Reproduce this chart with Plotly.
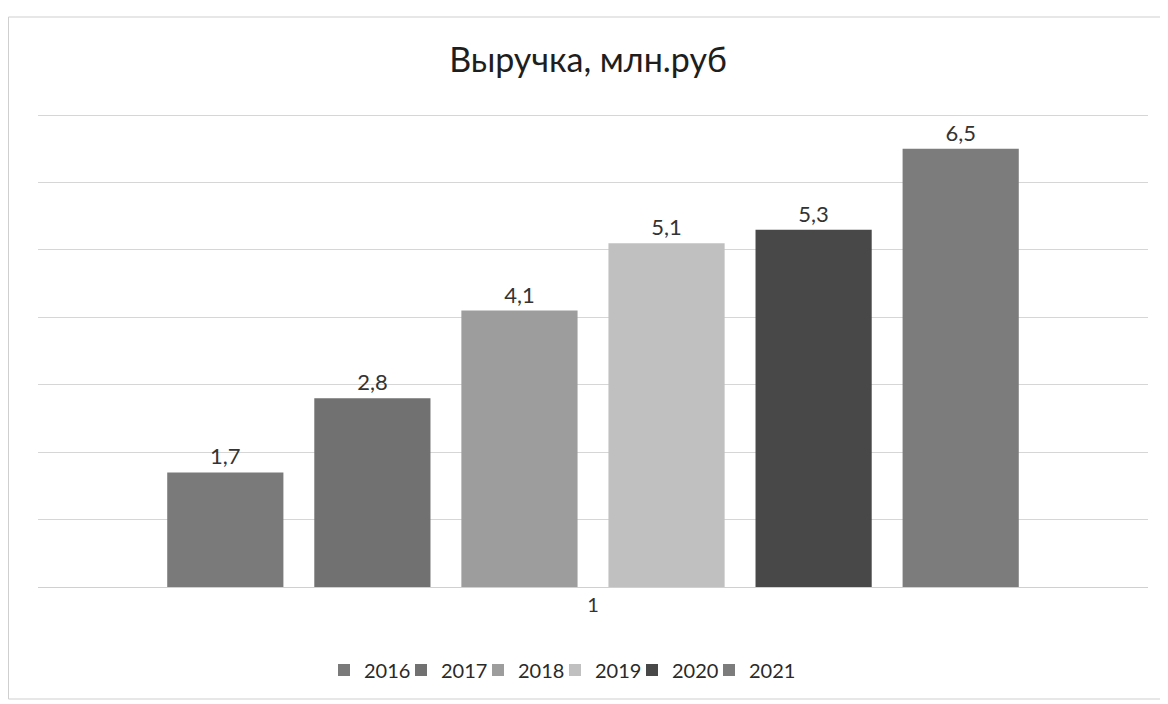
import plotly.graph_objects as go

title = "Выручка, млн.руб"
category = ["1"]
years = ["2016", "2017", "2018", "2019", "2020", "2021"]
values = [1.7, 2.8, 4.1, 5.1, 5.3, 6.5]
colors = ["#7a7a7a", "#717171", "#9d9d9d", "#c0c0c0", "#484848", "#7c7c7c"]

FONT = "Lato, Noto Sans, sans-serif"

fig = go.Figure()
for yr, v, c in zip(years, values, colors):
    fig.add_trace(go.Bar(
        name=yr, x=category, y=[v],
        marker=dict(color=c, line=dict(width=0)),
        text=[v], texttemplate="%{y:.1f}", textposition="outside",
        textfont=dict(size=22, color="#333333", family=FONT),
        cliponaxis=False,
    ))
# invisible spacer entry so the last legend label is not clipped
fig.add_trace(go.Scatter(x=[None], y=[None], mode="markers", name=" ",
                         marker=dict(color="rgba(0,0,0,0)"), hoverinfo="skip"))

# page body has an 8px margin, so the figure is laid out 8px smaller
W, H = 1160, 696
YMAX = 7.03
ml, mr = 30, 20
base_y = 579            # pixel of y=0 inside the figure
unit = (579 - 107) / 7  # pixels per unit
mb = H - base_y
mt = base_y - int(round(YMAX * unit))
pw, ph = W - ml - mr, H - mt - mb

def px_to_paper_x(px):
    return (px - ml) / pw

def px_to_paper_y(py):
    return (H - mb - py) / ph

border = dict(color="#cfcfcf", width=1)
shapes = [
    dict(type="line", xref="paper", yref="paper",
         x0=px_to_paper_x(0.5), x1=px_to_paper_x(1155), y0=px_to_paper_y(9), y1=px_to_paper_y(9), line=border),
    dict(type="line", xref="paper", yref="paper",
         x0=px_to_paper_x(0.5), x1=px_to_paper_x(0.5), y0=px_to_paper_y(9), y1=px_to_paper_y(691), line=border),
    dict(type="line", xref="paper", yref="paper",
         x0=px_to_paper_x(0.5), x1=px_to_paper_x(1155), y0=px_to_paper_y(691), y1=px_to_paper_y(691), line=border),
]

fig.update_layout(
    width=W, height=H,
    margin=dict(l=ml, r=mr, t=mt, b=mb),
    paper_bgcolor="white", plot_bgcolor="white",
    separators=", ",
    barmode="group", bargap=0.205, bargroupgap=0.21,
    title=dict(text=title, x=0.5, xanchor="center", y=1 - 52 / H, yanchor="middle",
               font=dict(size=34, color="#1e1e1e", family=FONT)),
    font=dict(family=FONT, color="#333333"),
    showlegend=True,
    legend=dict(orientation="h", x=px_to_paper_x(316), xanchor="left", y=px_to_paper_y(662), yanchor="middle",
                font=dict(size=20, color="#2a2a2a", family=FONT),
                itemwidth=30, entrywidth=32, traceorder="normal", bgcolor="rgba(0,0,0,0)"),
    xaxis=dict(showgrid=False, showline=True, linecolor="#d0d0d0", linewidth=1,
               ticks="", tickfont=dict(size=20, color="#333333", family=FONT)),
    yaxis=dict(range=[0, YMAX], dtick=1, showgrid=True, gridcolor="#d6d6d6", gridwidth=1,
               showticklabels=False, zeroline=False, showline=False, ticks=""),
    shapes=shapes,
)

fig.write_html("out.html")
